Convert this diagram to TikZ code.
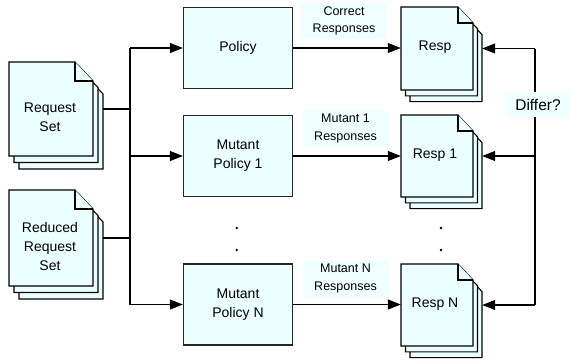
\documentclass[tikz,border=0pt]{standalone}
\usepackage{fontspec}
\setmainfont{Liberation Sans}
\usetikzlibrary{arrows.meta,fit}
\definecolor{pagefill}{RGB}{236,255,255}
\definecolor{lblfill}{RGB}{240,255,255}
\tikzset{
  pageline/.style={draw=black, fill=pagefill, line width=1.1pt, line join=miter},
  procbox/.style={draw=black!85, fill=pagefill, line width=1.3pt, minimum width=109pt, minimum height=81pt, inner sep=0pt, align=center, font=\fontsize{14}{19}\selectfont},
  doctext/.style={align=center, inner sep=0pt, font=\fontsize{14}{19}\selectfont},
  lbl/.style={fill=lblfill, inner sep=0pt, align=center, minimum width=86pt, minimum height=36pt, font=\fontsize{12.5}{17.5}\selectfont},
  conn/.style={line width=1.1pt, draw=black},
  arr/.style={conn, -{Triangle[length=13pt,width=10pt]}},
}
\newcommand{\docstack}[7]{%
  \foreach \k in {2,1,0}{%
    \draw[pageline] ({#2+\k*#6},{#3+\k*#7}) -- ({#4+\k*#6-\dsex},{#3+\k*#7}) -- ({#4+\k*#6},{#3+\k*#7+\dsey}) -- ({#4+\k*#6},{#5+\k*#7}) -- ({#2+\k*#6},{#5+\k*#7}) -- cycle;}
  \draw[pageline] ({#4-\dsex},#3) -- ({#4-\dsex},{#3+\dsey}) -- (#4,{#3+\dsey});
  \node[fit={(#2,#3) ({#4+2*#6},#5)}, inner sep=0pt, draw=none] (#1) {};
}
\begin{document}
\begin{tikzpicture}[x=1pt,y=-1pt]
\useasboundingbox (0,0) rectangle (570,360);
% input document stacks
\def\dsex{18}\def\dsey{19}
\docstack{req}{9}{62}{93}{156}{5}{6.5}
\docstack{red}{9}{190}{93}{286}{5}{6.5}
\node[doctext] (reqt) at (50,117) {Request\\Set};
\node[doctext] (redt) at (50,246) {Reduced\\Request\\Set};
% response stacks
\def\dsex{15}\def\dsey{16}
\docstack{resp}{401}{7}{473}{90}{4.5}{5.8}
\docstack{respa}{401}{115}{473}{197}{4.5}{5.8}
\docstack{respn}{401}{264}{473}{346}{4.5}{5.8}
\node[doctext] (respt) at (435,47) {Resp};
\node[doctext] (respat) at (435,155) {Resp 1};
\node[doctext] (respnt) at (435,304) {Resp N};
% policies
\node[procbox] (pol) at (238,48) {Policy};
\node[procbox] (mpa) at (238,156) {Mutant\\Policy 1};
\node[procbox] (mpn) at (238,304.5) {Mutant\\Policy N};
% dots
\fill (236.7,228) circle (1.4);
\fill (236.7,250) circle (1.4);
\fill (441,228) circle (1.4);
\fill (441,250) circle (1.4);
% bus on the left
\coordinate (bus) at (130,0);
\draw[conn] (req.east) -- (req.east -| bus);
\draw[conn] (red.east) -- (red.east -| bus);
\draw[conn] (bus |- pol.west) -- (bus |- mpn.west);
\draw[arr] (bus |- pol.west) -- (pol.west);
\draw[arr] (bus |- mpa.west) -- (mpa.west);
\draw[arr] (bus |- mpn.west) -- (mpn.west);
% policy to responses
\draw[arr] (pol.east) -- (pol.east -| resp.west);
\draw[arr] (mpa.east) -- (mpa.east -| respa.west);
\draw[arr] (mpn.east) -- (mpn.east -| respn.west);
\node[lbl] (lc) at (344,21) {Correct\\Responses};
\node[lbl] (la) at (345.5,128.5) {Mutant 1\\Responses};
\node[lbl] (ln) at (345.5,278.5) {Mutant N\\Responses};
% feedback on the right
\coordinate (fb) at (535,0);
\draw[conn] (fb |- resp.east) -- (fb |- respn.east);
\draw[arr] (fb |- resp.east) -- (resp.east);
\draw[arr] (fb |- respa.east) -- (respa.east);
\draw[arr] (fb |- respn.east) -- (respn.east);
\node[fill=lblfill, inner sep=0pt, minimum width=67pt, minimum height=25pt, font=\fontsize{15.5}{18}\selectfont] (dif) at (538,104.5) {Differ?};
\end{tikzpicture}
\end{document}
